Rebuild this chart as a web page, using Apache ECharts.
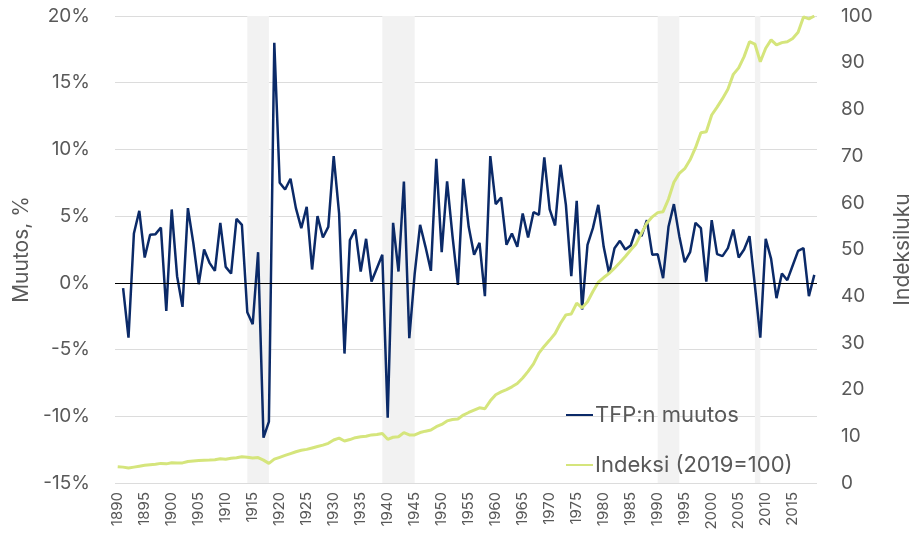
<!DOCTYPE html>
<html>
<head>
<meta charset="utf-8">
<script src="https://cdn.jsdelivr.net/npm/echarts@6/dist/echarts.min.js"></script>
<style>
  html, body { margin: 0; padding: 0; background: #fff; }
  #chart { width: 921px; height: 543px; }
</style>
</head>
<body>
<div id="chart"></div>
<script>
// vuodet 1890-2019
const years = []
for (let y = 1890; y <= 2019; y++) years.push(String(y))

// TFP:n muutos, % (1890 puuttuu)
const tfpChange = [null,
  -0.4, -4.1, 3.7, 5.4, 1.9, 3.6, 3.65, 4.15, -2.1,
  5.5, 0.5, -1.8, 5.6, 3.0, -0.1, 2.5, 1.5, 0.9, 4.5,
  1.2, 0.7, 4.8, 4.35, -2.2, -3.1, 2.3, -11.6, -10.4, 18.0,
  7.5, 7.0, 7.8, 5.6, 4.1, 5.7, 1.0, 5.0, 3.4, 4.2,
  9.5, 5.2, -5.3, 3.2, 4.0, 0.85, 3.3, 0.1, 1.1, 2.1,
  -10.1, 4.5, 0.85, 7.6, -4.15, 0.7, 4.35, 2.7, 0.9, 9.3,
  2.3, 7.6, 3.5, -0.15, 7.8, 4.2, 2.1, 3.0, -1.0, 9.5,
  5.9, 6.4, 2.85, 3.7, 2.7, 5.2, 3.4, 5.3, 5.1, 9.4,
  5.5, 4.3, 8.85, 5.85, 0.5, 6.15, -2.0, 2.85, 4.1, 5.85,
  2.7, 0.7, 2.6, 3.15, 2.5, 2.8, 4.0, 3.5, 4.7, 2.1,
  2.15, 0.35, 4.2, 5.9, 3.5, 1.55, 2.3, 4.5, 4.1, 0.1,
  4.7, 2.15, 2.0, 2.6, 4.0, 1.9, 2.5, 3.5, -0.2, -4.1,
  3.3, 1.8, -1.15, 0.7, 0.2, 1.3, 2.4, 2.6, -1.0, 0.6
]

// Indeksi (2019=100)
const tfpIndex = [
  3.5, 3.4, 3.2, 3.4, 3.6, 3.8, 3.9, 4.0, 4.2, 4.1,
  4.35, 4.3, 4.3, 4.6, 4.7, 4.8, 4.85, 4.9, 5.0, 5.2,
  5.1, 5.3, 5.4, 5.6, 5.5, 5.35, 5.45, 4.9, 4.2, 5.1,
  5.5, 5.9, 6.3, 6.7, 7.0, 7.2, 7.5, 7.8, 8.1, 8.5,
  9.2, 9.6, 9.0, 9.3, 9.7, 9.9, 10.0, 10.3, 10.4, 10.6,
  9.35, 9.8, 9.9, 10.8, 10.3, 10.3, 10.8, 11.1, 11.35, 12.05,
  12.55, 13.3, 13.6, 13.7, 14.55, 15.1, 15.6, 16.1, 15.9, 17.6,
  18.9, 19.5, 20.0, 20.6, 21.3, 22.5, 23.9, 25.5, 27.8, 29.3,
  30.6, 32.0, 34.2, 36.0, 36.2, 38.5, 37.5, 38.8, 41.0, 43.0,
  44.0, 44.9, 46.0, 47.2, 48.5, 49.9, 51.2, 53.5, 55.7, 57.0,
  57.9, 58.1, 60.8, 64.4, 66.3, 67.3, 69.2, 71.8, 75.0, 75.2,
  78.8, 80.5, 82.3, 84.3, 87.5, 88.9, 91.3, 94.5, 94.0, 90.2,
  93.1, 94.9, 93.8, 94.3, 94.5, 95.2, 96.5, 99.8, 99.4, 100
]

// taantumat / sodat (harmaat alueet)
const shadeStart = ['1914', '1939', '1990', '2008']
const shadeEnd = ['1918', '1945', '1994', '2009']

const font = 'Inter'
const grey = '#595959'
const navy = '#0b2a68'
const lime = '#d5e57c'

let chart = echarts.init(document.getElementById('chart'))

let option = {
  backgroundColor: '#fff',
  animation: false,
  textStyle: { fontFamily: font },
  grid: {
    left: 115,
    right: 103,
    top: 16,
    bottom: 60
  },
  legend: {
    orient: 'vertical',
    left: 566,
    top: 404,
    padding: 0,
    icon: 'rect',
    itemWidth: 27,
    itemHeight: 2,
    itemGap: 28,
    data: ['TFP:n muutos', 'Indeksi (2019=100)'],
    textStyle: { fontSize: 22, color: grey, fontFamily: font, padding: [0, 0, 0, -3] }
  },
  xAxis: {
    type: 'category',
    data: years,
    boundaryGap: true,
    axisLine: { show: false },
    axisTick: { show: false },
    axisLabel: {
      interval: 4,
      rotate: 90,
      fontSize: 15,
      color: grey,
      margin: 9
    }
  },
  yAxis: [{
    type: 'value',
    min: -15,
    max: 20,
    interval: 5,
    name: 'Muutos, %',
    nameLocation: 'middle',
    nameRotate: 90,
    nameGap: 80,
    nameTextStyle: { fontSize: 21, color: grey },
    axisLabel: {
      formatter: '{value}%',
      fontSize: 19,
      color: grey,
      margin: 25
    },
    splitLine: { lineStyle: { color: '#dcdcdc', width: 1 } }
  }, {
    type: 'value',
    min: 0,
    max: 100,
    interval: 10,
    position: 'right',
    name: 'Indeksiluku',
    nameLocation: 'middle',
    nameRotate: 90,
    nameGap: 75,
    nameTextStyle: { fontSize: 21, color: grey },
    axisLabel: {
      fontSize: 19,
      color: grey,
      margin: 24
    },
    splitLine: { show: false }
  }],
  series: [{
    // harmaat alueet ja nollaviiva
    type: 'line',
    data: [],
    z: 1,
    silent: true,
    markArea: {
      silent: true,
      itemStyle: { color: '#f2f2f2' },
      data: shadeStart.map((s, i) => [{ xAxis: s }, { xAxis: shadeEnd[i] }])
    },
    markLine: {
      silent: true,
      symbol: 'none',
      label: { show: false },
      lineStyle: { color: '#000', width: 1, type: 'solid' },
      data: [{ yAxis: 0 }]
    }
  }, {
    name: 'TFP:n muutos',
    type: 'line',
    yAxisIndex: 0,
    data: tfpChange,
    symbol: 'none',
    z: 3,
    lineStyle: { color: navy, width: 2.5 },
    itemStyle: { color: navy }
  }, {
    name: 'Indeksi (2019=100)',
    type: 'line',
    yAxisIndex: 1,
    data: tfpIndex,
    symbol: 'none',
    z: 4,
    lineStyle: { color: lime, width: 3 },
    itemStyle: { color: lime }
  }]
}

chart.setOption(option)
</script>
</body>
</html>
